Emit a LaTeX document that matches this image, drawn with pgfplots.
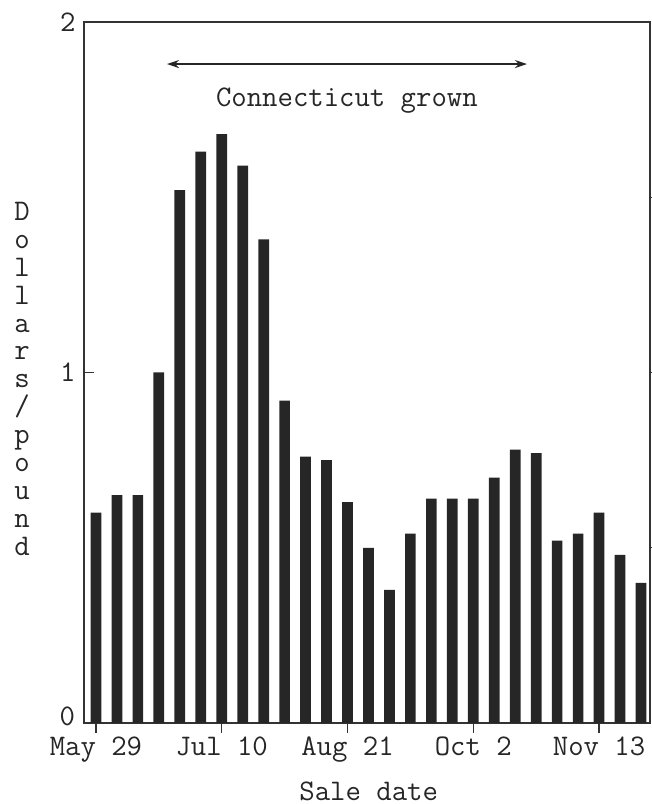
\documentclass[border=0pt]{standalone}
\usepackage{pgfplots}
\pgfplotsset{compat=1.18}
\usetikzlibrary{arrows.meta}
\begin{document}
\begin{tikzpicture}[font=\fontsize{15}{18}\selectfont\ttfamily]
\begin{axis}[
  scale only axis, width=283bp, height=350.5bp,
  xmin=-0.57, xmax=26.43, ymin=0, ymax=2,
  axis line style={black!80, line width=0.7bp},
  ybar, bar width=0.51,
  xtick={0,6,12,18,24},
  xticklabels={May 29, Jul 10, Aug 21, Oct 2, Nov 13},
  xtick pos=bottom, xtick align=outside,
  ytick={0,1,2}, yticklabels={,1,2}, ytick pos=left, ytick align=inside,
  major tick length=5bp,
  tick style={black!80, line width=0.6bp},
  xticklabel style={black!85, inner sep=1.5bp},
  yticklabel style={black!85, inner sep=2bp, xshift=-2bp},
  /pgf/number format/assume math mode=true,
  clip=false,
]
\addplot[fill=black!85, draw=none] coordinates {
(0,0.60) (1,0.65) (2,0.65) (3,1.00) (4,1.52) (5,1.63) (6,1.68) (7,1.59) (8,1.38)
(9,0.92) (10,0.76) (11,0.75) (12,0.63) (13,0.50) (14,0.38) (15,0.54) (16,0.64)
(17,0.64) (18,0.64) (19,0.70) (20,0.78) (21,0.77) (22,0.52) (23,0.54) (24,0.60)
(25,0.48) (26,0.40)};
\draw[black!80, line width=0.6bp] (axis cs:26.43,0.5) -- ++(-5bp,0);
\draw[black!80, line width=0.6bp] (axis cs:26.43,1) -- ++(-5bp,0);
\draw[black!80, line width=0.6bp] (axis cs:26.43,1.5) -- ++(-5bp,0);
\draw[black!85, line width=1bp, {Stealth[length=6bp,width=4bp]}-{Stealth[length=6bp,width=4bp]}]
  (axis cs:3.39,1.88) -- (axis cs:20.56,1.88);
\node[black!85] at (axis cs:11.97,1.775) {Connecticut grown};
\node[black!85, anchor=east, inner sep=0.3bp] at ([xshift=-4bp,yshift=3.5bp]rel axis cs:0,0) {0};
\node[black!85, align=center, font=\fontsize{15}{14}\selectfont\ttfamily] at ([xshift=-31bp]rel axis cs:0,0.491)
  {D\\o\\l\\l\\a\\r\\s\\/\\p\\o\\u\\n\\d};
\node[black!85] at ([yshift=-34bp]rel axis cs:0.503,0) {Sale date};
\coordinate (sw) at (rel axis cs:0,0);
\coordinate (ne) at (rel axis cs:1,1);
\end{axis}
\pgfresetboundingbox
\path ([shift={(-42bp,-40.5bp)}]sw) rectangle ([shift={(1bp,11bp)}]ne);
\end{tikzpicture}
\end{document}
